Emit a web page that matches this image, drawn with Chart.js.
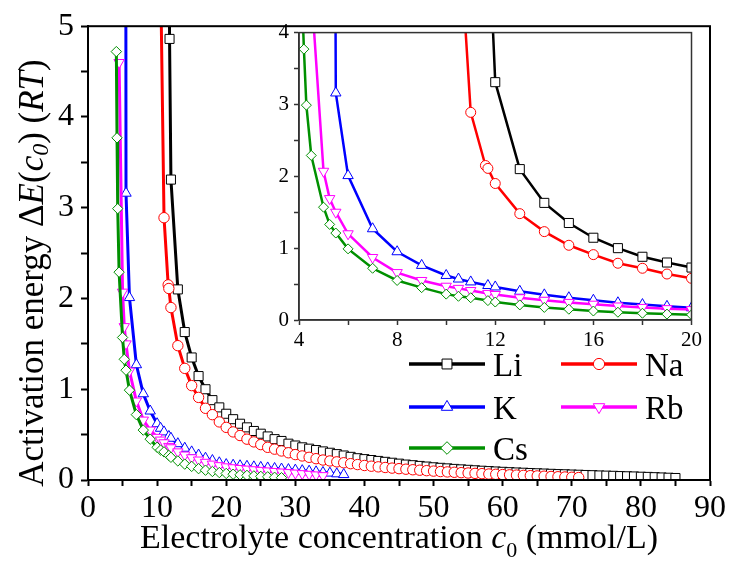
<!DOCTYPE html>
<html>
<head>
<meta charset="utf-8">
<title>Activation energy vs electrolyte concentration</title>
<script src="https://cdn.jsdelivr.net/npm/chart.js@4.4.1/dist/chart.umd.min.js"></script>
<style>
  html, body { margin: 0; padding: 0; background: #fff; }
  #wrap { position: relative; width: 729px; height: 567px; }
  #mainChart { position: absolute; left: 0; top: 0; }
  #insetChart { position: absolute; left: 255px; top: 15px; }
</style>
</head>
<body>
<div id="wrap">
  <canvas id="mainChart" width="729" height="567"></canvas>
  <canvas id="insetChart" width="450" height="345"></canvas>
</div>
<script>
// Series data (x = c0 in mmol/L, y = activation energy in RT)
const seriesNames = ['Li', 'Na', 'K', 'Rb', 'Cs'];

const liX = [11.7, 11.8, 12, 13, 14, 15, 16, 17, 18, 19, 20, 21, 22, 23, 24, 25, 26, 27, 28, 29, 30,
  31, 32, 33, 34, 35, 36, 37, 38, 39, 40, 41, 42, 43, 44, 45, 46, 47, 48, 49, 50,
  51, 52, 53, 54, 55, 56, 57, 58, 59, 60, 61, 62, 63, 64, 65, 66, 67, 68, 69, 70,
  71, 72, 73, 74, 75, 76, 77, 78, 79, 80, 81, 82, 83, 84, 85];
const liY = [8.0, 4.86, 3.31, 2.10, 1.63, 1.35, 1.145, 1.00, 0.88, 0.80, 0.73,
  0.67, 0.62, 0.58, 0.54, 0.51, 0.48, 0.45, 0.43, 0.40, 0.38,
  0.36, 0.345, 0.33, 0.315, 0.30, 0.285, 0.27, 0.255, 0.24, 0.23,
  0.22, 0.21, 0.20, 0.19, 0.18, 0.17, 0.163, 0.155, 0.148, 0.14,
  0.134, 0.128, 0.122, 0.117, 0.112, 0.107, 0.102, 0.098, 0.094, 0.09,
  0.086, 0.083, 0.08, 0.077, 0.074, 0.071, 0.068, 0.065, 0.063, 0.06,
  0.058, 0.055, 0.053, 0.05, 0.048, 0.046, 0.043, 0.041, 0.039, 0.036,
  0.034, 0.031, 0.028, 0.025, 0.022];

const naX = [10.5, 11, 11.6, 11.7, 12, 13, 14, 15, 16, 17, 18, 19, 20, 21, 22, 23, 24, 25, 26, 27, 28, 29, 30,
  31, 32, 33, 34, 35, 36, 37, 38, 39, 40, 41, 42, 43, 44, 45, 46, 47, 48, 49, 50,
  51, 52, 53, 54, 55, 56, 57, 58, 59, 60, 61, 62, 63, 64, 65, 66, 67, 68, 69, 70, 71];
const naY = [5.6, 2.89, 2.15, 2.11, 1.90, 1.48, 1.23, 1.04, 0.91, 0.79, 0.72, 0.64, 0.58,
  0.53, 0.49, 0.45, 0.42, 0.39, 0.36, 0.34, 0.32, 0.30, 0.28,
  0.265, 0.25, 0.235, 0.22, 0.21, 0.20, 0.19, 0.18, 0.17, 0.16,
  0.152, 0.145, 0.138, 0.131, 0.125, 0.119, 0.113, 0.108, 0.103, 0.098,
  0.093, 0.089, 0.085, 0.081, 0.077, 0.073, 0.07, 0.066, 0.063, 0.06,
  0.057, 0.054, 0.051, 0.048, 0.045, 0.042, 0.039, 0.036, 0.033, 0.03, 0.027];

const kX = [5.45, 5.5, 6, 7, 8, 9, 10, 10.5, 11, 11.7, 12, 13, 14, 15, 16, 17, 18, 19, 20,
  21, 22, 23, 24, 25, 26, 27, 28, 29, 30, 31, 32, 33, 34, 35, 36, 37];
const kY = [8.0, 3.16, 2.01, 1.27, 0.95, 0.76, 0.62, 0.57, 0.53, 0.48, 0.46,
  0.40, 0.35, 0.31, 0.275, 0.24, 0.215, 0.19, 0.17,
  0.163, 0.157, 0.151, 0.145, 0.139, 0.133, 0.127, 0.121, 0.115, 0.109,
  0.103, 0.097, 0.09, 0.083, 0.076, 0.068, 0.06];

const rbX = [4.5, 5, 5.25, 5.5, 6, 7, 8, 9, 10, 10.5, 11, 11.7, 12, 13, 14, 15, 16, 17, 18, 19, 20,
  21, 22, 23, 24, 25, 26, 27, 28, 29, 30, 31, 32, 33, 34];
const rbY = [4.6, 2.07, 1.69, 1.50, 1.20, 0.87, 0.66, 0.55, 0.47, 0.44, 0.41, 0.37, 0.355,
  0.31, 0.275, 0.245, 0.22, 0.195, 0.175, 0.158, 0.145,
  0.135, 0.127, 0.12, 0.113, 0.106, 0.1, 0.094, 0.088, 0.082, 0.076,
  0.07, 0.063, 0.056, 0.048];

const csX = [4.1, 4.2, 4.3, 4.5, 5, 5.25, 5.5, 6, 7, 8, 9, 10, 10.5, 11, 11.7, 12,
  13, 14, 15, 16, 17, 18, 19, 20, 21, 22, 23, 24, 25, 26, 27, 28];
const csY = [4.72, 3.77, 2.99, 2.29, 1.57, 1.33, 1.21, 0.99, 0.72, 0.55, 0.45, 0.36, 0.33, 0.31, 0.27, 0.25,
  0.21, 0.175, 0.15, 0.125, 0.108, 0.094, 0.082, 0.072,
  0.064, 0.057, 0.051, 0.045, 0.04, 0.035, 0.03, 0.025];

// Axis ranges
const mainXRange = [0, 90];
const mainYRange = [0, 5];
const insetXRange = [4, 20];
const insetYRange = [0, 4];

const seriesX = [liX, naX, kX, rbX, csX];
const seriesY = [liY, naY, kY, rbY, csY];

// Look of each series
const colors = ['#000000', '#ff0000', '#0000ff', '#ff00ff', '#009000'];
const pointStyles = ['rect', 'circle', 'triangle', 'triangle', 'rectRot'];
const pointRotations = [0, 0, 0, 180, 0];
const mainRadius = [6.4, 5.2, 6, 6, 5.2];
const insetRadius = [6.4, 5, 6, 6, 5];
const legendRadius = [7, 5.6, 6.6, 6.6, 6.3];

const SERIF = "'Liberation Serif', 'Times New Roman', serif";

function buildDatasets(radii, lineWidth) {
    return seriesNames.map((name, i) => ({
        label: name,
        data: seriesX[i].map((x, j) => ({ x: x, y: seriesY[i][j] })),
        borderColor: colors[i],
        borderWidth: lineWidth,
        backgroundColor: '#ffffff',
        pointStyle: pointStyles[i],
        pointRotation: pointRotations[i],
        pointRadius: radii[i],
        pointBackgroundColor: '#ffffff',
        pointBorderColor: colors[i],
        pointBorderWidth: 1,
        tension: 0,
        fill: false,
        order: 4 - i   // Li at the bottom, Cs on top
    }));
}

// Box round the plotting area (top and right edges too)
const framePlugin = {
    id: 'frame',
    afterDraw(chart, args, opts) {
        const { ctx, chartArea: a } = chart;
        ctx.save();
        ctx.strokeStyle = opts.color;
        ctx.lineWidth = opts.width;
        ctx.strokeRect(a.left, a.top, a.right - a.left, a.bottom - a.top);
        ctx.restore();
    }
};

// Text helpers for the mixed italic / subscript titles
function richWidth(ctx, segs) {
    let w = 0;
    segs.forEach(s => { ctx.font = s.font; w += ctx.measureText(s.text).width; });
    return w;
}
function drawRich(ctx, segs, cx, baseline) {
    let x = cx - richWidth(ctx, segs) / 2;
    segs.forEach(s => {
        ctx.font = s.font;
        ctx.fillText(s.text, x, baseline + (s.dy || 0));
        x += ctx.measureText(s.text).width;
    });
}

const titlePlugin = {
    id: 'titles',
    afterDraw(chart) {
        const { ctx, chartArea: a } = chart;
        ctx.save();
        ctx.fillStyle = '#000';
        ctx.textBaseline = 'alphabetic';
        ctx.textAlign = 'left';
        const xSegs = [
            { text: 'Electrolyte concentration ', font: `34px ${SERIF}` },
            { text: 'c', font: `italic 34px ${SERIF}` },
            { text: '0', font: `22px ${SERIF}`, dy: 9 },
            { text: ' (mmol/L)', font: `34px ${SERIF}` }
        ];
        drawRich(ctx, xSegs, (a.left + a.right) / 2, 548);

        const ySegs = [
            { text: 'Activation energy ', font: `35px ${SERIF}` },
            { text: '\u0394', font: `35px ${SERIF}` },
            { text: 'E', font: `italic 35px ${SERIF}` },
            { text: '(', font: `35px ${SERIF}` },
            { text: 'c', font: `italic 35px ${SERIF}` },
            { text: '0', font: `italic 24px ${SERIF}`, dy: 5 },
            { text: ') (', font: `35px ${SERIF}` },
            { text: 'RT', font: `italic 35px ${SERIF}` },
            { text: ')', font: `35px ${SERIF}` }
        ];
        ctx.translate(43, 273);
        ctx.rotate(-Math.PI / 2);
        drawRich(ctx, ySegs, 0, 0);
        ctx.restore();
    }
};

function drawMarker(ctx, style, x, y, r, color, rot) {
    ctx.save();
    ctx.beginPath();
    if (style === 'rect') {
        const s = r * Math.SQRT1_2;
        ctx.rect(x - s, y - s, 2 * s, 2 * s);
    } else if (style === 'circle') {
        ctx.arc(x, y, r, 0, Math.PI * 2);
    } else if (style === 'triangle') {
        const d = rot === 180 ? -1 : 1;
        const c = Math.cos(Math.PI / 6) * r;
        ctx.moveTo(x, y - d * r);
        ctx.lineTo(x + c, y + d * r / 2);
        ctx.lineTo(x - c, y + d * r / 2);
    } else if (style === 'rectRot') {
        ctx.moveTo(x, y - r);
        ctx.lineTo(x + r, y);
        ctx.lineTo(x, y + r);
        ctx.lineTo(x - r, y);
    }
    ctx.closePath();
    ctx.fillStyle = '#ffffff';
    ctx.fill();
    ctx.lineWidth = 1;
    ctx.strokeStyle = color;
    ctx.stroke();
    ctx.restore();
}

// Legend in two columns, inside the lower right of the main plot
const legendPlugin = {
    id: 'innerLegend',
    afterDraw(chart) {
        const ctx = chart.ctx;
        const slots = [[409, 364], [561, 364], [409, 407], [561, 407], [409, 448]];
        ctx.save();
        seriesNames.forEach((name, i) => {
            const [lx, ly] = slots[i];
            ctx.beginPath();
            ctx.moveTo(lx, ly);
            ctx.lineTo(lx + 76, ly);
            ctx.strokeStyle = colors[i];
            ctx.lineWidth = 3.5;
            ctx.stroke();
            drawMarker(ctx, pointStyles[i], lx + 38, ly, legendRadius[i], colors[i], pointRotations[i]);
            ctx.fillStyle = '#000';
            ctx.font = `33px ${SERIF}`;
            ctx.textAlign = 'left';
            ctx.textBaseline = 'alphabetic';
            ctx.fillText(name, lx + 84, ly + 12);
        });
        ctx.restore();
    }
};

// Main chart
const mainCtx = document.getElementById('mainChart').getContext('2d');
const mainChart = new Chart(mainCtx, {
    type: 'line',
    data: { datasets: buildDatasets(mainRadius, 3) },
    options: {
        responsive: false,
        animation: false,
        events: [],
        layout: { padding: { left: 0, right: 18, top: 19, bottom: 0 } },
        plugins: {
            legend: { display: false },
            tooltip: { enabled: false },
            frame: { color: '#000', width: 2 }
        },
        scales: {
            x: {
                type: 'linear',
                min: mainXRange[0],
                max: mainXRange[1],
                afterFit: (scale) => { scale.height = 87; },
                border: { display: true, color: '#000', width: 2 },
                grid: { drawOnChartArea: false, drawTicks: true, tickLength: 6, tickColor: '#000', tickWidth: 2 },
                ticks: {
                    stepSize: 5,
                    color: '#000',
                    padding: 3,
                    maxRotation: 0,
                    autoSkip: false,
                    font: { family: SERIF, size: 32 },
                    callback: (v) => (v % 10 === 0 ? v : '')
                }
            },
            y: {
                min: mainYRange[0],
                max: mainYRange[1],
                afterFit: (scale) => { scale.width = 88; },
                border: { display: true, color: '#000', width: 2 },
                grid: { drawOnChartArea: false, drawTicks: true, tickLength: 7, tickColor: '#000', tickWidth: 2 },
                ticks: {
                    stepSize: 0.5,
                    color: '#000',
                    padding: 7,
                    autoSkip: false,
                    font: { family: SERIF, size: 32 },
                    callback: (v) => (Number.isInteger(v) ? v : '')
                }
            }
        }
    },
    plugins: [framePlugin, titlePlugin, legendPlugin]
});

// Inset chart, zoom on 4-20 mmol/L
const insetCtx = document.getElementById('insetChart').getContext('2d');
const insetChart = new Chart(insetCtx, {
    type: 'line',
    data: { datasets: buildDatasets(insetRadius, 2.5) },
    options: {
        responsive: false,
        animation: false,
        events: [],
        layout: { padding: { left: 0, right: 13, top: 14, bottom: 0 } },
        plugins: {
            legend: { display: false },
            tooltip: { enabled: false },
            frame: { color: '#333', width: 1.5 }
        },
        scales: {
            x: {
                type: 'linear',
                min: insetXRange[0],
                max: insetXRange[1],
                afterFit: (scale) => { scale.height = 40; },
                border: { display: true, color: '#333', width: 1.5 },
                grid: { drawOnChartArea: false, drawTicks: true, tickLength: 5, tickColor: '#333', tickWidth: 1.5 },
                ticks: {
                    stepSize: 2,
                    color: '#000',
                    padding: 3,
                    maxRotation: 0,
                    autoSkip: false,
                    font: { family: SERIF, size: 21 },
                    callback: (v) => (v % 4 === 0 ? v : '')
                }
            },
            y: {
                min: insetYRange[0],
                max: insetYRange[1],
                afterFit: (scale) => { scale.width = 44; },
                border: { display: true, color: '#333', width: 1.5 },
                grid: { drawOnChartArea: false, drawTicks: true, tickLength: 5, tickColor: '#333', tickWidth: 1.5 },
                ticks: {
                    stepSize: 0.5,
                    color: '#000',
                    padding: 5,
                    autoSkip: false,
                    font: { family: SERIF, size: 21 },
                    callback: (v) => (Number.isInteger(v) ? v : '')
                }
            }
        }
    },
    plugins: [framePlugin]
});
</script>
</body>
</html>
